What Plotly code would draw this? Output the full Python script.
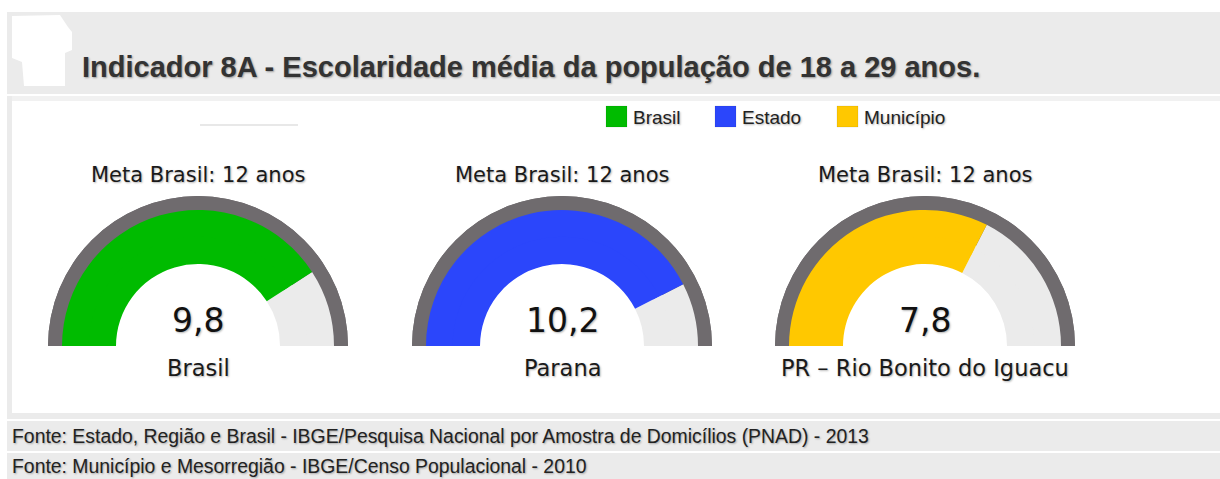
import plotly.graph_objects as go

# ---------------- data ----------------
title_text = "Indicador 8A - Escolaridade média da população de 18 a 29 anos."
regions = ["Brasil", "Parana", "PR – Rio Bonito do Iguacu"]
values = [9.8, 10.2, 7.8]
meta_anos = 12
legend_labels = ["Brasil", "Estado", "Município"]
series_colors = ["#00bb00", "#2b46fb", "#ffc800"]
sources = [
    "Fonte: Estado, Região e Brasil - IBGE/Pesquisa Nacional por Amostra de Domicílios (PNAD) - 2013",
    "Fonte: Município e Mesorregião - IBGE/Censo Populacional - 2010",
]

# ---------------- layout constants (pixels) ----------------
W, H = 1220, 479
centers_x = [198, 562, 925]
base_y = 346
R_RING, R_BAND, R_HOLE = 150, 136, 82
INNER_FRAC = 0.75  # plotly angular gauge inner radius fraction
RING_COLOR = "#6f6b6e"
REST_COLOR = "#ebebeb"
GAUGE_FONT = "DejaVu Sans"
ARIAL = "Liberation Sans, Arial, sans-serif"
SHADOW = "1px 1px 2px rgba(0,0,0,0.30)"


def px(x):
    return x / W


def py(y):
    return 1 - y / H


def gauge_domain(cx, by, r):
    return dict(x=[px(cx - r), px(cx + r)], y=[py(by), py(by - r)])


def rect(x0, y0, x1, y1, color):
    return dict(type="rect", xref="paper", yref="paper", x0=px(x0), x1=px(x1),
                y0=py(y1), y1=py(y0), fillcolor=color, line=dict(width=0), layer="below")


fig = go.Figure()

for cx, v, col in zip(centers_x, values, series_colors):
    # outer dark ring (target = meta)
    fig.add_trace(go.Indicator(
        mode="gauge", value=meta_anos, domain=gauge_domain(cx, base_y, R_RING),
        gauge=dict(shape="angular", axis=dict(range=[0, meta_anos], visible=False),
                   bar=dict(color=RING_COLOR, thickness=1, line=dict(width=0)),
                   bgcolor=RING_COLOR, borderwidth=0)))
    # value band (two stacked gauges to reach the inner hole)
    for r in (R_BAND, R_HOLE / INNER_FRAC):
        fig.add_trace(go.Indicator(
            mode="gauge", value=v, domain=gauge_domain(cx, base_y, r),
            gauge=dict(shape="angular", axis=dict(range=[0, meta_anos], visible=False),
                       bar=dict(color=col, thickness=1, line=dict(width=0)),
                       steps=[dict(range=[v, meta_anos], color=REST_COLOR, thickness=1,
                                   line=dict(width=0))],
                       bgcolor="rgba(0,0,0,0)", borderwidth=0)))

shapes = [
    rect(7, 12, 1220, 94, "#ebebeb"),
    rect(7, 96, 1220, 419, "#ebebeb"),
    rect(12, 96, 1220, 101, "#f1f1f1"),
    rect(12, 101, 1220, 413, "#ffffff"),
    rect(7, 421, 1220, 451, "#ebebeb"),
    rect(7, 453, 1220, 479, "#ebebeb"),
    rect(200, 124, 298, 126, "#e8e8e8"),
]
# white blob (masked logo)
blob = [(12, 16), (60, 15), (68, 27), (72, 32), (72, 50), (65, 53), (65, 86),
        (24, 86), (22, 62), (12, 58)]
path = "M " + " L ".join(f"{px(x)} {py(y)}" for x, y in blob) + " Z"
shapes.append(dict(type="path", xref="paper", yref="paper", path=path,
                   fillcolor="#ffffff", line=dict(width=0), layer="below"))

# legend squares
legend_sq_x = [606, 715, 837]
for x0, col in zip(legend_sq_x, series_colors):
    shapes.append(dict(type="rect", xref="paper", yref="paper", x0=px(x0), x1=px(x0 + 21),
                       y0=py(127), y1=py(106), fillcolor=col,
                       line=dict(width=1, color="rgba(0,0,0,0.08)"), layer="above"))

annotations = []
annotations.append(dict(text=title_text, x=px(80), y=py(67), xref="paper", yref="paper",
                        xanchor="left", yanchor="middle", showarrow=False,
                        font=dict(family=ARIAL, size=29, color="#333333", weight="bold",
                                  shadow="1px 1px 2px rgba(0,0,0,0.35)")))
for x0, lab in zip(legend_sq_x, legend_labels):
    annotations.append(dict(text=lab, x=px(x0 + 25), y=py(117), xref="paper", yref="paper",
                            xanchor="left", yanchor="middle", showarrow=False,
                            font=dict(family=ARIAL, size=19, color="#222222", shadow=SHADOW)))
for cx, v, reg in zip(centers_x, values, regions):
    annotations.append(dict(text=f"Meta Brasil: {meta_anos} anos", x=px(cx), y=py(175),
                            xref="paper", yref="paper", xanchor="center", yanchor="middle",
                            showarrow=False,
                            font=dict(family=GAUGE_FONT, size=21, color="#1a1a1a", shadow=SHADOW)))
    annotations.append(dict(text=f"{v:.1f}".replace(".", ","), x=px(cx), y=py(320),
                            xref="paper", yref="paper", xanchor="center", yanchor="middle",
                            showarrow=False,
                            font=dict(family=GAUGE_FONT, size=33, color="#111111", shadow=SHADOW)))
    annotations.append(dict(text=reg, x=px(cx), y=py(368),
                            xref="paper", yref="paper", xanchor="center", yanchor="middle",
                            showarrow=False,
                            font=dict(family=GAUGE_FONT, size=22.5, color="#1a1a1a", shadow=SHADOW)))
for yy, s in zip([436, 466], sources):
    annotations.append(dict(text=s, x=px(10), y=py(yy), xref="paper", yref="paper",
                            xanchor="left", yanchor="middle", showarrow=False,
                            font=dict(family=ARIAL, size=19.4, color="#222222", shadow=SHADOW)))

fig.update_layout(width=W, height=H, margin=dict(l=0, r=0, t=0, b=0, pad=0),
                  paper_bgcolor="#ffffff", plot_bgcolor="#ffffff",
                  shapes=shapes, annotations=annotations, showlegend=False)

fig.write_html("out.html")
